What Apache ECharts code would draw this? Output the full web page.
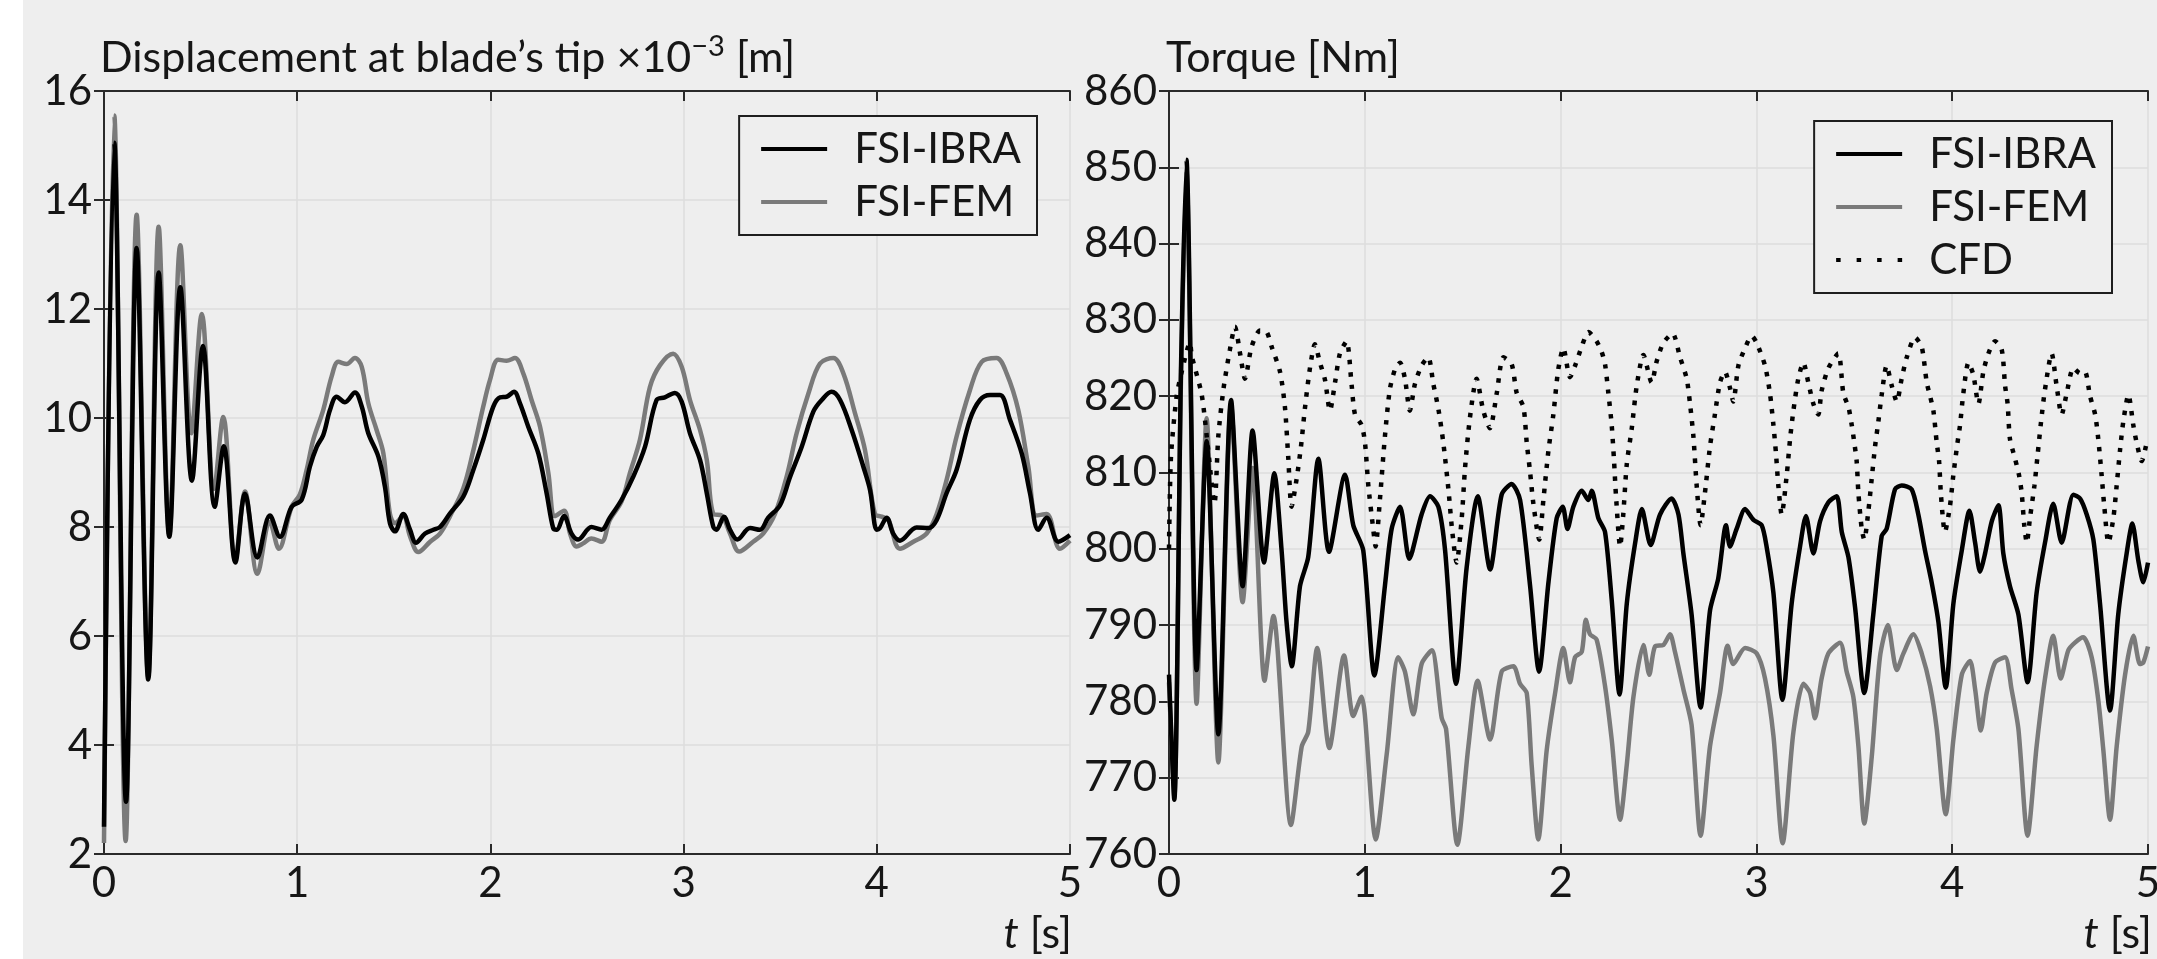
<!DOCTYPE html>
<html>
<head>
<meta charset="utf-8">
<script src="https://cdn.jsdelivr.net/npm/echarts@6/dist/echarts.min.js"></script>
<style>
html,body{margin:0;padding:0;background:#eeeeee;}
#chart{width:2157px;height:959px;}
</style>
</head>
<body>
<div id="chart"></div>
<script>
// ---------- data ----------
const timeTicks = [0, 1, 2, 3, 4, 5];
const dispTicks = [2, 4, 6, 8, 10, 12, 14, 16];
const torqueTicks = [760, 770, 780, 790, 800, 810, 820, 830, 840, 850, 860];

// Displacement at blade's tip [x1e-3 m]  -> [t, value]
const dispIBRA = [[0,2.5],[0.053,15.05],[0.114,2.96],[0.169,13.12],[0.229,5.2],[0.283,12.67],[0.338,7.82],[0.395,12.4],[0.455,8.85],[0.512,11.32],[0.573,8.37],[0.62,9.48],[0.68,7.35],[0.73,8.61],[0.794,7.44],[0.859,8.21],[0.911,7.82],[0.971,8.37],[1.023,8.5],[1.066,9.11],[1.101,9.47],[1.135,9.69],[1.17,10.15],[1.204,10.39],[1.247,10.29],[1.299,10.47],[1.334,10.21],[1.368,9.72],[1.42,9.29],[1.454,8.74],[1.48,8.07],[1.506,7.92],[1.549,8.24],[1.584,7.95],[1.615,7.71],[1.662,7.88],[1.705,7.95],[1.739,8.0],[1.791,8.25],[1.86,8.56],[1.912,9.05],[1.963,9.6],[2.015,10.21],[2.05,10.38],[2.084,10.39],[2.122,10.48],[2.153,10.27],[2.196,9.84],[2.248,9.35],[2.291,8.62],[2.325,7.98],[2.343,7.95],[2.381,8.2],[2.42,7.88],[2.454,7.77],[2.523,8.0],[2.575,7.95],[2.618,8.17],[2.679,8.5],[2.739,8.92],[2.8,9.47],[2.86,10.33],[2.903,10.38],[2.955,10.46],[2.99,10.3],[3.033,9.72],[3.085,9.23],[3.12,8.62],[3.154,8.0],[3.17,7.95],[3.209,8.19],[3.24,7.95],[3.278,7.77],[3.344,7.98],[3.395,7.95],[3.438,8.17],[3.499,8.4],[3.551,8.92],[3.611,9.47],[3.672,10.12],[3.715,10.33],[3.766,10.48],[3.81,10.33],[3.87,9.78],[3.93,9.11],[3.965,8.68],[4.0,7.95],[4.017,7.98],[4.051,8.17],[4.085,7.88],[4.12,7.75],[4.206,7.99],[4.267,7.98],[4.31,8.13],[4.361,8.62],[4.413,9.05],[4.482,9.97],[4.534,10.33],[4.586,10.42],[4.638,10.42],[4.689,9.97],[4.75,9.35],[4.793,8.62],[4.836,7.95],[4.879,8.17],[4.94,7.73],[5.0,7.85]];
const dispFEM = [[0,2.2],[0.053,15.55],[0.112,2.24],[0.169,13.73],[0.229,5.25],[0.283,13.51],[0.338,7.86],[0.395,13.17],[0.452,9.72],[0.506,11.91],[0.57,8.7],[0.617,10.02],[0.68,7.4],[0.73,8.65],[0.794,7.14],[0.859,8.09],[0.905,7.6],[0.971,8.37],[1.014,8.6],[1.049,9.05],[1.083,9.6],[1.135,10.15],[1.178,10.76],[1.213,11.03],[1.256,10.99],[1.299,11.1],[1.334,10.94],[1.368,10.27],[1.411,9.78],[1.446,9.35],[1.48,8.24],[1.506,8.07],[1.549,8.2],[1.584,7.83],[1.627,7.54],[1.688,7.73],[1.739,7.88],[1.791,8.2],[1.86,8.71],[1.912,9.41],[1.963,10.21],[1.998,10.7],[2.04,11.07],[2.084,11.05],[2.127,11.1],[2.17,10.82],[2.213,10.33],[2.257,9.84],[2.3,8.99],[2.334,8.2],[2.381,8.3],[2.412,7.88],[2.446,7.64],[2.48,7.7],[2.523,7.79],[2.575,7.73],[2.618,8.13],[2.679,8.47],[2.722,8.99],[2.774,9.6],[2.826,10.57],[2.878,10.97],[2.946,11.18],[2.99,10.94],[3.033,10.33],[3.085,9.78],[3.12,9.23],[3.154,8.24],[3.197,8.21],[3.24,7.88],[3.288,7.55],[3.36,7.73],[3.412,7.88],[3.473,8.24],[3.533,8.92],[3.585,9.72],[3.646,10.45],[3.706,11.0],[3.775,11.1],[3.827,10.82],[3.887,10.09],[3.939,9.41],[3.99,8.24],[4.025,8.19],[4.06,8.13],[4.12,7.6],[4.189,7.73],[4.258,7.88],[4.31,8.24],[4.361,8.86],[4.413,9.66],[4.482,10.51],[4.543,11.03],[4.62,11.1],[4.672,10.82],[4.732,10.15],[4.784,9.11],[4.827,8.21],[4.879,8.24],[4.948,7.6],[5.0,7.75]];

// Torque [Nm] -> [t, value]
const torqueIBRA = [[0,783.5],[0.027,767.1],[0.061,823.2],[0.089,851],[0.141,784.1],[0.192,814.1],[0.252,775.7],[0.317,819.5],[0.376,795.1],[0.427,815.5],[0.485,798.2],[0.538,809.9],[0.575,799.8],[0.6,790.5],[0.627,784.6],[0.669,795.1],[0.711,798.9],[0.763,811.8],[0.817,799.6],[0.899,809.7],[0.941,803.1],[0.992,799.8],[1.049,783.4],[1.103,795.2],[1.137,802.6],[1.18,805.5],[1.227,798.7],[1.29,804.5],[1.333,806.9],[1.376,805.5],[1.41,799.8],[1.466,782.3],[1.52,797.5],[1.577,806.9],[1.64,797.3],[1.699,807.1],[1.75,808.5],[1.793,806.4],[1.844,795.2],[1.89,783.9],[1.938,795.6],[1.98,804.0],[2.011,805.5],[2.035,802.6],[2.065,805.5],[2.108,807.6],[2.142,806.4],[2.159,807.6],[2.193,804.0],[2.227,802.2],[2.261,793.3],[2.301,780.9],[2.338,792.8],[2.381,800.8],[2.415,805.2],[2.46,800.5],[2.508,804.5],[2.567,806.6],[2.602,804.5],[2.627,799.4],[2.669,791.4],[2.715,779.2],[2.763,791.9],[2.805,796.1],[2.845,803.1],[2.865,800.3],[2.899,802.6],[2.942,805.2],[2.985,803.8],[3.027,803.1],[3.052,800.3],[3.087,794.2],[3.133,780.2],[3.18,792.8],[3.223,800.3],[3.253,804.3],[3.291,799.4],[3.325,803.6],[3.368,806.1],[3.41,806.9],[3.436,802.2],[3.47,798.9],[3.504,792.3],[3.551,781.1],[3.597,791.4],[3.64,801.7],[3.665,802.6],[3.708,807.8],[3.742,808.3],[3.793,807.8],[3.827,804.5],[3.861,799.8],[3.895,795.6],[3.929,790.5],[3.967,781.8],[4.006,792.8],[4.049,799.8],[4.088,805.0],[4.117,800.8],[4.142,797.0],[4.168,799.4],[4.202,803.6],[4.236,805.7],[4.261,799.4],[4.295,795.1],[4.338,791.4],[4.385,782.5],[4.431,794.2],[4.474,800.8],[4.516,805.9],[4.559,800.8],[4.619,807.1],[4.653,806.6],[4.687,804.5],[4.721,801.2],[4.755,792.8],[4.806,778.8],[4.848,791.4],[4.891,799.4],[4.92,803.3],[4.951,798.4],[4.976,795.6],[5.0,798.2]];
const torqueFEM = [[0,782.5],[0.027,767.5],[0.061,822],[0.089,849.5],[0.141,779.7],[0.192,817.1],[0.252,772.0],[0.317,819],[0.376,793.0],[0.427,810.6],[0.488,782.7],[0.533,791.2],[0.623,763.8],[0.678,774.1],[0.711,776.0],[0.757,787.0],[0.819,773.9],[0.894,786.0],[0.941,778.1],[0.984,780.6],[1.0,778.3],[1.056,761.9],[1.112,773.1],[1.171,785.8],[1.205,783.9],[1.248,778.3],[1.29,784.9],[1.342,786.7],[1.393,777.8],[1.415,776.4],[1.473,761.2],[1.529,774.1],[1.576,782.7],[1.64,775.0],[1.699,783.9],[1.759,784.6],[1.793,782.3],[1.827,781.1],[1.852,771.7],[1.886,761.9],[1.929,773.6],[1.972,781.1],[2.014,787.0],[2.048,782.5],[2.074,785.8],[2.108,786.5],[2.129,790.7],[2.15,788.8],[2.184,788.1],[2.227,782.0],[2.261,775.0],[2.304,764.5],[2.338,771.7],[2.372,780.6],[2.423,787.4],[2.453,783.5],[2.482,787.2],[2.525,787.4],[2.559,788.8],[2.584,786.5],[2.627,781.6],[2.669,776.9],[2.715,762.4],[2.763,774.1],[2.814,781.1],[2.853,787.3],[2.882,784.9],[2.942,787.0],[3.001,786.3],[3.044,783.0],[3.087,775.5],[3.134,761.4],[3.189,776.0],[3.24,782.3],[3.274,781.1],[3.299,777.8],[3.333,783.0],[3.368,786.3],[3.427,787.7],[3.461,783.9],[3.495,780.6],[3.521,774.1],[3.551,764.0],[3.589,772.7],[3.631,785.8],[3.671,790.0],[3.717,784.1],[3.751,786.3],[3.802,788.8],[3.844,786.3],[3.887,782.0],[3.921,776.4],[3.967,765.2],[4.006,775.0],[4.049,783.5],[4.091,785.3],[4.117,781.6],[4.146,776.2],[4.176,781.1],[4.219,785.1],[4.27,785.8],[4.303,781.6],[4.338,776.4],[4.385,762.4],[4.431,774.1],[4.474,783.0],[4.516,788.6],[4.554,783.0],[4.593,786.7],[4.627,787.7],[4.669,788.4],[4.712,785.8],[4.746,780.2],[4.772,773.6],[4.806,764.5],[4.84,774.1],[4.883,783.5],[4.925,788.6],[4.959,784.9],[4.976,785.1],[5.0,787.2]];
const torqueCFD = [[0,800],[0.01,812],[0.039,820],[0.065,823.2],[0.107,827],[0.116,825.3],[0.167,820.2],[0.2,813],[0.232,805.9],[0.252,814.8],[0.278,820.9],[0.311,826.1],[0.337,829.1],[0.363,825.6],[0.388,822.3],[0.422,826.5],[0.465,828.6],[0.499,828.4],[0.524,826.5],[0.567,823.2],[0.592,818.6],[0.609,812],[0.626,805.5],[0.652,809.2],[0.674,813.4],[0.695,818.6],[0.72,823.7],[0.745,826.8],[0.771,824.4],[0.797,822.1],[0.822,818.1],[0.848,821.8],[0.873,825.6],[0.907,827.2],[0.933,821.4],[0.95,817.6],[0.984,816.2],[1.001,813.9],[1.018,808.3],[1.043,802.6],[1.055,800.3],[1.077,806.4],[1.103,814.8],[1.128,820.9],[1.154,823.5],[1.18,824.4],[1.205,822.3],[1.23,818.1],[1.256,821.6],[1.29,824],[1.324,825.1],[1.35,821.6],[1.376,818.3],[1.401,813.9],[1.427,807.8],[1.447,802.2],[1.469,798.2],[1.495,804.0],[1.512,810.6],[1.537,817.2],[1.571,822.3],[1.605,818.1],[1.639,815.8],[1.674,820.4],[1.708,825.1],[1.75,824.2],[1.776,820.4],[1.81,818.6],[1.827,813.9],[1.844,810.1],[1.861,805.9],[1.891,801.2],[1.912,806.4],[1.938,812.9],[1.963,817.6],[1.988,823.5],[2.014,826.3],[2.048,822.5],[2.074,824.0],[2.108,826.5],[2.142,828.4],[2.184,827.2],[2.21,825.8],[2.227,824.2],[2.244,820.4],[2.261,816.2],[2.273,811.5],[2.283,806.9],[2.304,800.3],[2.32,804.5],[2.338,811.1],[2.363,815.7],[2.389,821.4],[2.423,825.4],[2.465,821.8],[2.491,824.6],[2.525,827.0],[2.572,828.2],[2.61,825.1],[2.644,822.3],[2.661,819.0],[2.678,814.8],[2.695,808.3],[2.715,803.1],[2.737,807.3],[2.763,813.4],[2.788,817.6],[2.814,821.8],[2.839,823.2],[2.865,821.1],[2.882,819.3],[2.908,824.0],[2.942,826.3],[2.976,827.9],[3.001,827.0],[3.044,824.0],[3.069,820.4],[3.087,816.2],[3.1,812.5],[3.112,808.3],[3.129,804.5],[3.155,809.7],[3.172,814.4],[3.189,818.1],[3.214,822.3],[3.24,824.4],[3.265,821.8],[3.291,819.0],[3.316,817.6],[3.333,820.7],[3.368,823.7],[3.418,825.6],[3.444,820.4],[3.47,818.6],[3.487,816.2],[3.5,813.9],[3.512,811.5],[3.521,807.3],[3.538,802.6],[3.551,801.2],[3.572,805.0],[3.589,809.2],[3.606,813.4],[3.623,816.7],[3.64,820.2],[3.665,824.0],[3.691,821.4],[3.717,819.3],[3.742,822.3],[3.768,825.1],[3.81,827.7],[3.844,826.5],[3.87,821.8],[3.887,820.0],[3.904,818.1],[3.921,813.9],[3.933,811.5],[3.943,806.9],[3.963,802.2],[3.988,805.5],[4.006,809.7],[4.027,813.9],[4.04,816.2],[4.057,820.4],[4.083,824.4],[4.108,822.8],[4.134,819.0],[4.159,823.2],[4.185,825.6],[4.219,827.2],[4.253,826.1],[4.27,821.4],[4.283,819.0],[4.295,814.4],[4.321,811.8],[4.341,809.7],[4.355,807.3],[4.368,803.1],[4.381,800.8],[4.397,804.0],[4.42,808.3],[4.437,812.5],[4.454,816.7],[4.474,820.9],[4.508,825.6],[4.533,821.4],[4.559,817.6],[4.585,820.4],[4.619,823.7],[4.653,823.0],[4.678,823.2],[4.704,820.0],[4.73,817.6],[4.746,814.4],[4.763,809.7],[4.777,805.5],[4.798,800.8],[4.823,804.0],[4.84,808.3],[4.857,812.9],[4.874,816.7],[4.9,820.2],[4.925,816.2],[4.942,813.9],[4.968,811.5],[4.993,813.9]];

// ---------- styling ----------
const FONT = 'Lato, "Open Sans", "DejaVu Sans", sans-serif';
const TXT = '#161616';
const SPINE = '#2a2a2a';
const GRIDC = '#dcdcdc';
const BG = '#eeeeee';
const FS = 42;
const LW = 4.5;
const ICON_SOLID = 'path://M0,0H66V4H0Z';
const ICON_DOTS = 'path://M0,0h4.5v4h-4.5z M20.5,0h4.5v4h-4.5z M41,0h4.5v4h-4.5z M61.5,0h4.5v4h-4.5z';

function axisBase(ticks) {
  return {
    type: 'value',
    min: ticks[0],
    max: ticks[ticks.length - 1],
    interval: ticks[1] - ticks[0],
    axisLine: { show: true, lineStyle: { color: SPINE, width: 2 } },
    axisTick: { show: true, inside: true, length: 10, lineStyle: { color: SPINE, width: 2 } }
  };
}
function mainX(ticks, gi) {
  return Object.assign(axisBase(ticks), {
    gridIndex: gi, position: 'bottom',
    axisLabel: { show: true, margin: 8, fontSize: FS, fontFamily: FONT, color: TXT,
                 alignMinLabel: 'center', alignMaxLabel: 'center', showMinLabel: true, showMaxLabel: true },
    splitLine: { show: true, lineStyle: { color: GRIDC, width: 1.5 } }
  });
}
function mainY(ticks, gi) {
  return Object.assign(axisBase(ticks), {
    gridIndex: gi, position: 'left',
    axisLabel: { show: true, margin: 12, fontSize: FS, fontFamily: FONT, color: TXT, padding: [0, 0, 10, 0],
                 showMinLabel: true, showMaxLabel: true },
    splitLine: { show: true, lineStyle: { color: GRIDC, width: 1.5 } }
  });
}
function mirror(ticks, gi, pos) {
  return Object.assign(axisBase(ticks), {
    gridIndex: gi, position: pos,
    axisLabel: { show: false }, splitLine: { show: false }
  });
}
function legendCfg(items, pos) {
  return Object.assign({
    orient: 'vertical', data: items, selectedMode: false,
    itemWidth: 66, itemHeight: 4, itemGap: 11,
    padding: [12, 16, 12, 22],
    borderColor: '#1e1e1e', borderWidth: 2, borderRadius: 0, backgroundColor: BG,
    textStyle: { fontSize: FS, fontFamily: FONT, fontWeight: 'normal', color: TXT, lineHeight: 42, padding: [0, 0, 0, 22] }
  }, pos);
}
function line(name, data, xi, yi, color, width, type, smooth) {
  return {
    name: name, type: 'line', xAxisIndex: xi, yAxisIndex: yi, data: data,
    symbol: 'none', showSymbol: false, smooth: smooth, animation: false,
    lineStyle: { color: color, width: width, type: type, cap: 'butt' },
    itemStyle: { color: color }
  };
}
const richTxt = {
  a: { fontSize: 43, fontFamily: FONT, fontWeight: 'normal', color: TXT, lineHeight: 52 },
  s: { fontSize: 29, fontFamily: FONT, fontWeight: 'normal', color: TXT, lineHeight: 30, verticalAlign: 'top' },
  i: { fontSize: 43, fontFamily: FONT, fontWeight: 'normal', color: TXT, lineHeight: 52, fontStyle: 'italic' }
};
const titleStyle = { fontWeight: 'normal', rich: richTxt };

const chart = echarts.init(document.getElementById('chart'), null, { renderer: 'canvas' });
chart.setOption({
  backgroundColor: BG,
  animation: false,
  graphic: [{ type: 'rect', left: 0, top: 0, shape: { width: 23, height: 959 }, style: { fill: '#ffffff' }, silent: true, z: -10 }],
  title: [
    { text: '{a|Displacement at blade’s tip ×10}{s|−3}{a| [m]}', left: 100, top: 32, padding: 0, textStyle: titleStyle },
    { text: '{a|Torque [Nm]}', left: 1166, top: 32, padding: 0, textStyle: titleStyle },
    { text: '{i|t}{a| [s]}', right: 1085, top: 908, padding: 0, textStyle: titleStyle },
    { text: '{i|t}{a| [s]}', right: 5, top: 908, padding: 0, textStyle: titleStyle }
  ],
  legend: [
    legendCfg([{ name: 'FSI-IBRA', icon: ICON_SOLID }, { name: 'FSI-FEM', icon: ICON_SOLID }], { right: 1120, top: 116 }),
    legendCfg([{ name: 'FSI-IBRA', icon: ICON_SOLID }, { name: 'FSI-FEM', icon: ICON_SOLID }, { name: 'CFD', icon: ICON_DOTS }], { right: 45, top: 121 })
  ],
  grid: [
    { left: 104, top: 91, width: 966, height: 763, containLabel: false, outerBoundsMode: 'none' },
    { left: 1169, top: 91, width: 979, height: 763, containLabel: false, outerBoundsMode: 'none' }
  ],
  xAxis: [
    mainX(timeTicks, 0), mirror(timeTicks, 0, 'top'),
    mainX(timeTicks, 1), mirror(timeTicks, 1, 'top')
  ],
  yAxis: [
    mainY(dispTicks, 0), mirror(dispTicks, 0, 'right'),
    mainY(torqueTicks, 1), mirror(torqueTicks, 1, 'right')
  ],
  series: [
    line('FSI-FEM', dispFEM, 0, 0, '#7a7a7a', LW, 'solid', 0.35),
    line('FSI-IBRA', dispIBRA, 0, 0, '#000000', LW, 'solid', 0.35),
    line('FSI-FEM', torqueFEM, 2, 2, '#7a7a7a', LW, 'solid', 0.25),
    line('FSI-IBRA', torqueIBRA, 2, 2, '#000000', LW, 'solid', 0.25),
    line('CFD', torqueCFD, 2, 2, '#000000', LW, [4.5, 8], 0.25)
  ]
});
</script>
</body>
</html>
